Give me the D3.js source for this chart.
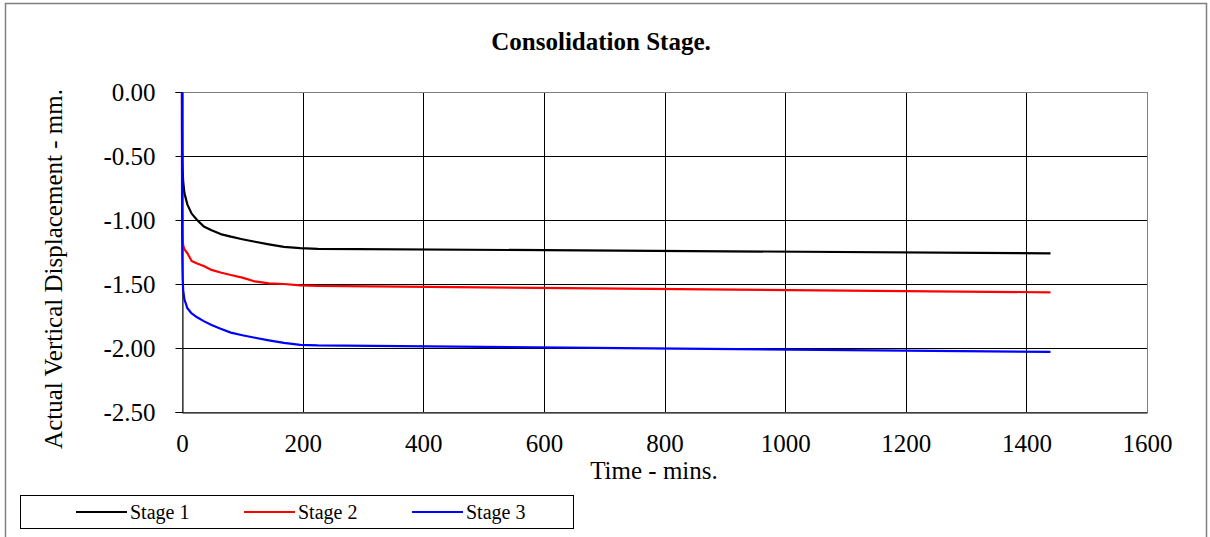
<!DOCTYPE html>
<html>
<head>
<meta charset="utf-8">
<script src="https://cdn.jsdelivr.net/npm/d3@7"></script>
<style>
  html, body { margin: 0; padding: 0; background: #fff; }
  svg { display: block; font-family: "Liberation Serif", "Times New Roman", serif; }
</style>
</head>
<body>
<svg id="chart" width="1210" height="537"></svg>
<script>
// ---- data ----
const times  = [0, 0.1, 0.25, 0.5, 1, 2, 4, 9, 16, 25, 36, 49, 64, 81, 100, 121, 144, 169, 196, 225, 1440];
const stage1 = [0, -0.30, -0.45, -0.55, -0.62, -0.70, -0.79, -0.88, -0.95, -1.00, -1.05, -1.08, -1.11, -1.13, -1.15, -1.17, -1.19, -1.21, -1.22, -1.225, -1.26];
const stage2 = [0, -0.60, -0.90, -1.05, -1.15, -1.20, -1.23, -1.26, -1.32, -1.34, -1.36, -1.39, -1.41, -1.43, -1.45, -1.48, -1.495, -1.50, -1.51, -1.515, -1.565];
const stage3 = [0, -0.80, -1.10, -1.30, -1.45, -1.55, -1.62, -1.69, -1.73, -1.76, -1.79, -1.82, -1.85, -1.88, -1.90, -1.92, -1.94, -1.96, -1.975, -1.98, -2.03];
const seriesNames = ["Stage 1", "Stage 2", "Stage 3"];
const seriesColors = ["#000000", "#ff0000", "#0000ff"];
const xTicks = [0, 200, 400, 600, 800, 1000, 1200, 1400, 1600];
const yTicks = [0, -0.5, -1.0, -1.5, -2.0, -2.5];
const titleText = "Consolidation Stage.";
const xTitle = "Time - mins.";
const yTitle = "Actual Vertical Displacement - mm.";

const series = [stage1, stage2, stage3];
const FONT = "Liberation Serif";

const svg = d3.select("#chart");

// outer chart border
svg.append("rect").attr("x", 5.5).attr("y", 3.5).attr("width", 1201).attr("height", 540)
  .attr("fill", "#fff").attr("stroke", "#808080").attr("stroke-width", 1.5);

const L = 182, R = 1147, T = 92, B = 412;
const x = d3.scaleLinear().domain([0, 1600]).range([L, R]);
const y = d3.scaleLinear().domain([-2.5, 0]).range([B, T]);

// gridlines
const grid = svg.append("g");
grid.selectAll("line.h").data(yTicks).join("line")
  .attr("x1", L).attr("x2", R).attr("y1", d => Math.round(y(d)) + 0.5).attr("y2", d => Math.round(y(d)) + 0.5)
  .attr("stroke", "#000").attr("stroke-width", 1);
grid.selectAll("line.v").data(xTicks).join("line")
  .attr("y1", T).attr("y2", B).attr("x1", d => Math.round(x(d)) + 0.5).attr("x2", d => Math.round(x(d)) + 0.5)
  .attr("stroke", "#000").attr("stroke-width", 1);

// plot border
svg.append("rect").attr("x", L + 0.5).attr("y", T + 0.5).attr("width", R - L).attr("height", B - T)
  .attr("fill", "none").attr("stroke", "#808080").attr("stroke-width", 1);

// axes
const xAxis = d3.axisBottom(x).tickValues(xTicks).tickSize(0).tickPadding(22).tickFormat(d3.format("d"));
const yAxis = d3.axisLeft(y).tickValues(yTicks).tickSize(7).tickPadding(20).tickFormat(d3.format(".2f"));
const gx = svg.append("g").attr("transform", `translate(0,${B + 0.5})`).call(xAxis);
const gy = svg.append("g").attr("transform", `translate(${L + 0.5},0)`).call(yAxis);
[gx, gy].forEach(g => {
  g.attr("font-family", FONT);
  g.select(".domain").attr("stroke", "#000");
  g.selectAll(".tick line").attr("stroke", "#000");
  g.selectAll(".tick text").attr("font-family", FONT).attr("font-size", 25).attr("fill", "#000");
});
gy.selectAll(".tick text").text(d => d3.format(".2f")(d).replace("\u2212", "-"));

// lines
const line = d3.line().x((d, i) => x(times[i])).y(d => y(d));
svg.append("g").selectAll("path").data(series).join("path")
  .attr("d", d => line(d))
  .attr("fill", "none")
  .attr("stroke", (d, i) => seriesColors[i])
  .attr("stroke-width", 2.2)
  .attr("stroke-linejoin", "round");

// title
svg.append("text").attr("x", 601).attr("y", 50).attr("text-anchor", "middle")
  .attr("font-family", FONT).attr("font-size", 25).attr("font-weight", "bold").text(titleText);

// axis titles
svg.append("text").attr("x", 654).attr("y", 479).attr("text-anchor", "middle")
  .attr("font-family", FONT).attr("font-size", 25).text(xTitle);
svg.append("text").attr("transform", `translate(62,269) rotate(-90)`).attr("text-anchor", "middle")
  .attr("font-family", FONT).attr("font-size", 25).text(yTitle);

// legend
const lg = svg.append("g");
lg.append("rect").attr("x", 20.5).attr("y", 495.5).attr("width", 553).attr("height", 33)
  .attr("fill", "#fff").attr("stroke", "#000").attr("stroke-width", 1);
const legendX = [76, 244, 412];
seriesNames.forEach((name, i) => {
  lg.append("line").attr("x1", legendX[i]).attr("x2", legendX[i] + 51)
    .attr("y1", 512).attr("y2", 512).attr("stroke", seriesColors[i]).attr("stroke-width", 2.2);
  lg.append("text").attr("x", legendX[i] + 54).attr("y", 519).attr("font-family", FONT)
    .attr("font-size", 20).text(name);
});
</script>
</body>
</html>
